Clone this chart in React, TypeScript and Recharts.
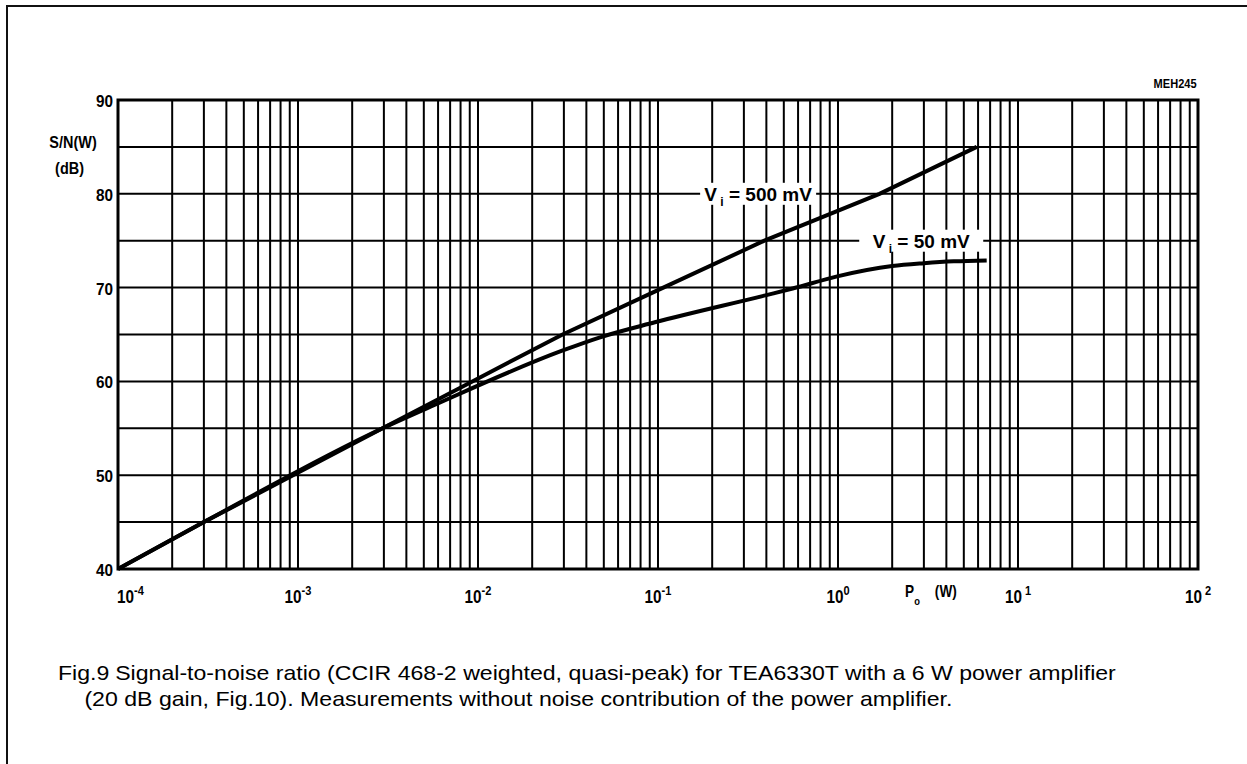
import {
  CartesianGrid,
  Line,
  LineChart,
  ReferenceArea,
  ReferenceDot,
  XAxis,
  YAxis,
} from "recharts";

// axis ticks
const DECADES = [-4, -3, -2, -1, 0, 1, 2];
const MULTIPLIERS = [1, 2, 3, 4, 5, 6, 7, 8, 9];
const Y_TICKS = [40, 45, 50, 55, 60, 65, 70, 75, 80, 85, 90];
const Y_LABELS = [40, 50, 60, 70, 80, 90];

// Vi = 500 mV
const PO_500 = [1e-4, 3.0e-4, 2.95e-3, 9.3e-3, 0.0295, 0.107, 0.39, 1.7, 5.9];
const SN_500 = [40, 45, 55, 60, 65, 70, 75, 80, 85];

// Vi = 50 mV
const PO_50 = [1e-4, 3.0e-4, 2.95e-3, 5.6e-3, 0.0296, 0.0477, 0.096, 0.4, 0.56, 0.99, 2.0, 3.0, 4.4, 6.7];
const SN_50 = [40, 45, 55, 57.4, 63.3, 64.7, 66.3, 69.2, 69.9, 71.2, 72.3, 72.6, 72.8, 72.9];

const X_TICKS = DECADES.flatMap((d) =>
  d === 2 ? [Math.pow(10, d)] : MULTIPLIERS.map((m) => Number((m * Math.pow(10, d)).toPrecision(3)))
);

const data500 = PO_500.map((po, i) => ({ po, sn: SN_500[i] }));
const data50 = PO_50.map((po, i) => ({ po, sn: SN_50[i] }));

const FONT = "'Liberation Sans', Arial, Helvetica, sans-serif";
const NARROW = 0.85;

function XTick({ x, y, payload }: any) {
  const v = payload.value;
  const exp = Math.round(Math.log10(v));
  if (Math.abs(v - Math.pow(10, exp)) > 1e-12 * Math.pow(10, exp)) return <g />;
  const sup = exp > 0 ? ` ${exp}` : exp === 0 ? "0" : `-${-exp}`;
  const first = exp === -4;
  return (
    <text
      transform={`translate(${first ? x - 1 : x},${y + 34}) scale(${NARROW},1)`}
      textAnchor={first ? "start" : "middle"}
      fontFamily={FONT}
      fontSize={18}
      fontWeight={700}
      fill="#000"
    >
      10
      <tspan dy={-8} fontSize={13}>
        {sup}
      </tspan>
    </text>
  );
}

function YTick({ x, y, payload }: any) {
  if (!Y_LABELS.includes(payload.value)) return <g />;
  return (
    <text
      transform={`translate(${x - 5},${y + 7}) scale(0.9,1)`}
      textAnchor="end"
      fontFamily={FONT}
      fontSize={17}
      fontWeight={700}
      fill="#000"
    >
      {payload.value}
    </text>
  );
}

function viLabel(value: string, width: number) {
  return ({ cx, cy }: any) => (
    <g>
      <rect x={cx - width / 2} y={cy - 11} width={width} height={22} fill="#fff" />
      <text x={cx} y={cy + 7} textAnchor="middle" fontFamily={FONT} fontSize={19} fontWeight={600} fill="#000">
        V
        <tspan dy={5} fontSize={12}>
          {" i"}
        </tspan>
        <tspan dy={-5}>{` = ${value} mV`}</tspan>
      </text>
    </g>
  );
}

function poLabel({ cx, cy }: any) {
  return (
    <text
      transform={`translate(${cx},${cy + 28}) scale(${NARROW},1)`}
      fontFamily={FONT}
      fontSize={16}
      fontWeight={700}
      fill="#000"
    >
      P
      <tspan dy={8} fontSize={11}>
        o
      </tspan>
      <tspan x={35} dy={-8}>
        (W)
      </tspan>
    </text>
  );
}

const narrowDiv = (right: number, top: number, size: number, text: string) => (
  <div
    style={{
      position: "absolute",
      right: 1247 - right,
      top,
      fontFamily: FONT,
      fontSize: size,
      fontWeight: 700,
      lineHeight: `${size + 4}px`,
      transform: `scaleX(${NARROW})`,
      transformOrigin: "right center",
      whiteSpace: "nowrap",
    }}
  >
    {text}
  </div>
);

export default function App() {
  return (
    <div style={{ position: "absolute", left: 0, top: 0, width: 1247, height: 764, background: "#fff", overflow: "hidden" }}>
      <div
        style={{
          position: "absolute",
          left: 6,
          top: 5,
          right: -10,
          bottom: -10,
          borderTop: "2px solid #111",
          borderLeft: "2px solid #111",
        }}
      />
      <LineChart
        width={1247}
        height={764}
        margin={{ top: 100, right: 49, bottom: 155, left: 68 }}
        style={{ position: "absolute", left: 0, top: 0 }}
      >
        <CartesianGrid stroke="#000" strokeWidth={2} />
        <XAxis
          dataKey="po"
          type="number"
          scale="log"
          domain={[1e-4, 100]}
          allowDataOverflow
          ticks={X_TICKS}
          interval={0}
          tick={<XTick />}
          tickLine={false}
          axisLine={false}
          tickSize={0}
          tickMargin={0}
          height={40}
        />
        <YAxis
          type="number"
          domain={[40, 90]}
          ticks={Y_TICKS}
          interval={0}
          tick={<YTick />}
          tickLine={false}
          axisLine={false}
          tickSize={0}
          tickMargin={0}
          width={50}
        />
        <ReferenceArea x1={1e-4} x2={100} y1={40} y2={90} fill="none" stroke="#000" strokeWidth={3} />
        <Line data={data500} dataKey="sn" type="linear" stroke="#000" strokeWidth={4} dot={false} isAnimationActive={false} />
        <Line data={data50} dataKey="sn" type="monotone" stroke="#000" strokeWidth={4} dot={false} isAnimationActive={false} />
        <ReferenceDot x={0.36} y={80} r={0} shape={viLabel("500", 116)} />
        <ReferenceDot x={2.9} y={75} r={0} shape={viLabel("50", 124)} />
        <ReferenceDot x={2.36} y={40} r={0} ifOverflow="visible" shape={poLabel} />
      </LineChart>
      {narrowDiv(97, 132, 17, "S/N(W)")}
      {narrowDiv(84, 158, 17, "(dB)")}
      {narrowDiv(1197, 75, 13, "MEH245")}
      <div
        style={{
          position: "absolute",
          left: 58,
          top: 660,
          fontFamily: FONT,
          fontSize: 21,
          lineHeight: "26px",
          color: "#000",
          whiteSpace: "nowrap",
          transform: "scaleX(1.1)",
          transformOrigin: "left top",
        }}
      >
        <div>
          <span style={{ display: "inline-block", width: 52 }}>Fig.9</span>
          Signal-to-noise ratio (CCIR 468-2 weighted, quasi-peak) for TEA6330T with a 6 W power amplifier
        </div>
        <div style={{ paddingLeft: 24 }}>
          (20 dB gain, Fig.10). Measurements without noise contribution of the power amplifier.
        </div>
      </div>
    </div>
  );
}
